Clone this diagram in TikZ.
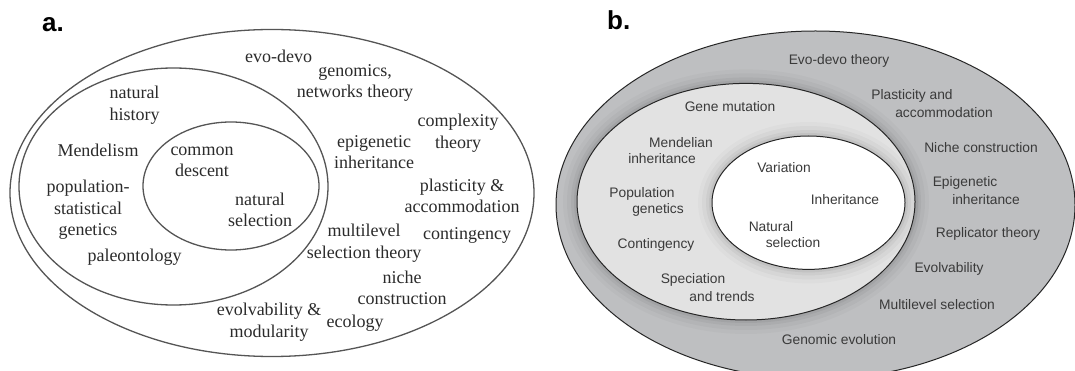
\documentclass[tikz,border=0pt]{standalone}
\usepackage{fontspec}
\setmainfont{Liberation Serif}
\newfontfamily\bsans{Liberation Sans}
\definecolor{atxt}{HTML}{2B2B2B}
\definecolor{aln}{HTML}{555555}
\definecolor{btxt}{HTML}{3A3A3A}
\definecolor{bln}{HTML}{262626}
\definecolor{bouter}{HTML}{BEBFC1}
\definecolor{bmid}{HTML}{E2E2E2}
\begin{document}
\begin{tikzpicture}[x=1pt,y=-1pt,
  aline/.style={draw=aln,line width=1.3pt},
  bline/.style={draw=bln,line width=1pt},
  atext/.style={font=\fontsize{18}{21.5}\selectfont,text=atxt,align=center,inner sep=0pt},
  btext/.style={font=\bsans\fontsize{13.8}{16.5}\selectfont,text=btxt,inner sep=0pt},
  lab/.style={font=\bsans\bfseries\fontsize{26}{30}\selectfont,text=black,inner sep=0pt}]
\useasboundingbox (0,0) rectangle (1075,371);
\clip (0,0) rectangle (1075,371);
\fill[white] (0,0) rectangle (1075,371);
% ---------------- panel a
\coordinate (aO) at (272,193);
\coordinate (aM) at (173.5,186.5);
\coordinate (aI) at (231,186);
\draw[aline] (aO) ellipse [x radius=262pt,y radius=163.5pt];
\draw[aline] (aM) ellipse [x radius=154.5pt,y radius=118.5pt];
\draw[aline] (aI) ellipse [x radius=88pt,y radius=64pt];
\node[lab,anchor=base west] (la) at (42,31.5) {a.};
\node[atext] (a1) at (278.6,56.7) {evo-devo};
\node[atext] (a2) at (355,82.8) {genomics,\\networks theory};
\node[atext] (a3) at (134.5,105) {natural\\history};
\node[atext] (a4) at (458,133) {complexity\\theory};
\node[atext] (a5) at (374,152) {epigenetic\\inheritance};
\node[atext] (a6) at (98,150.7) {Mendelism};
\node[atext] (a7) at (202,161.7) {common\\descent};
\node[atext] (a8) at (88,210) {population-\\statistical\\genetics};
\node[atext] (a9) at (260,210) {natural\\selection};
\node[atext] (a10) at (462,195.7) {plasticity \&\\accommodation};
\node[atext] (a11) at (364,243) {multilevel\\selection theory};
\node[atext] (a12) at (467,235) {contingency};
\node[atext] (a13) at (134.5,257) {paleontology};
\node[atext] (a14) at (402,288) {niche\\construction};
\node[atext] (a15) at (269,322) {evolvability \&\\modularity};
\node[atext] (a16) at (355,322.7) {ecology};
% ---------------- panel b
\coordinate (bO) at (815.5,205);
\coordinate (bM) at (746,201.7);
\coordinate (bI) at (808.5,202.7);
\fill[bouter] (bO) ellipse [x radius=259.5pt,y radius=174pt];
\foreach \rx/\ry/\o in {183/132.3/0.025,179/128.3/0.03,175/124.3/0.04,172/121.3/0.05}
  \fill[black,opacity=\o] (bM) ellipse [x radius=\rx pt,y radius=\ry pt];
\fill[bmid] (bM) ellipse [x radius=169pt,y radius=118.3pt];
\draw[bline] (bM) ellipse [x radius=169pt,y radius=118.3pt];
\foreach \rx/\ry/\o in {110.5/80.7/0.02,106.5/76.7/0.03,102.5/72.7/0.04,99.5/69.7/0.05}
  \fill[black,opacity=\o] (bI) ellipse [x radius=\rx pt,y radius=\ry pt];
\fill[white] (bI) ellipse [x radius=96.5pt,y radius=66.7pt];
\draw[bline] (bI) ellipse [x radius=96.5pt,y radius=66.7pt];
\draw[bline] (bO) ellipse [x radius=259.5pt,y radius=174pt];
\node[lab,anchor=base west] (lb) at (607,30) {b.};
\node[btext] (b1) at (839,60.7) {Evo-devo theory};
\node[btext] (b2) at (912,96) {Plasticity and};
\node[btext] (b3) at (944,112.3) {accommodation};
\node[btext] (b4) at (730,106.7) {Gene mutation};
\node[btext] (b5) at (681,142.3) {Mendelian};
\node[btext] (b6) at (662,158.3) {inheritance};
\node[btext] (b7) at (981,147.3) {Niche construction};
\node[btext] (b8) at (784,167.3) {Variation};
\node[btext] (b9) at (965,183.3) {Epigenetic};
\node[btext] (b10) at (986,199.3) {inheritance};
\node[btext] (b11) at (642,194) {Population};
\node[btext] (b12) at (658,210) {genetics};
\node[btext] (b13) at (845,199.3) {Inheritance};
\node[btext] (b14) at (771,226.7) {Natural};
\node[btext] (b15) at (793,242.7) {selection};
\node[btext] (b16) at (988,234.3) {Replicator theory};
\node[btext] (b17) at (656,245) {Contingency};
\node[btext] (b18) at (949,269.3) {Evolvability};
\node[btext] (b19) at (693,280) {Speciation};
\node[btext] (b20) at (722,296.7) {and trends};
\node[btext] (b21) at (937,305) {Multilevel selection};
\node[btext] (b22) at (839,340) {Genomic evolution};
\end{tikzpicture}
\end{document}
